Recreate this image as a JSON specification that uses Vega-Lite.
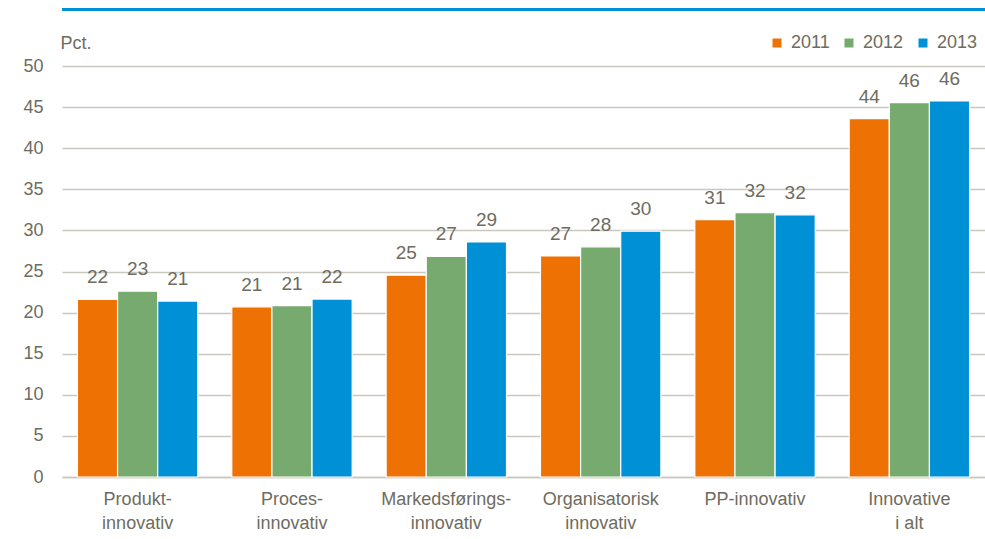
{
  "$schema": "https://vega.github.io/schema/vega-lite/v6.json",
  "width": 923,
  "height": 411,
  "autosize": {"type": "none"},
  "padding": {"left": 62, "top": 66, "right": 0, "bottom": 62},
  "background": "white",
  "config": {
    "font": "Liberation Sans, Arial",
    "view": {"stroke": null},
    "axis": {"labelColor": "#6E6C5E", "titleColor": "#6E6C5E", "labelFontSize": 18, "titleFontSize": 18, "labelFont": "Liberation Sans", "titleFont": "Liberation Sans", "titleFontWeight": "normal"},
    "legend": {"labelColor": "#6E6C5E", "labelFontSize": 18, "labelFont": "Liberation Sans"}
  },
  "data": {
    "values": [
      {"kategori": "Produkt-\ninnovativ", "aar": "2011", "pct": 21.6},
      {"kategori": "Produkt-\ninnovativ", "aar": "2012", "pct": 22.6},
      {"kategori": "Produkt-\ninnovativ", "aar": "2013", "pct": 21.4},
      {"kategori": "Proces-\ninnovativ", "aar": "2011", "pct": 20.7},
      {"kategori": "Proces-\ninnovativ", "aar": "2012", "pct": 20.85},
      {"kategori": "Proces-\ninnovativ", "aar": "2013", "pct": 21.65},
      {"kategori": "Markedsførings-\ninnovativ", "aar": "2011", "pct": 24.55},
      {"kategori": "Markedsførings-\ninnovativ", "aar": "2012", "pct": 26.85},
      {"kategori": "Markedsførings-\ninnovativ", "aar": "2013", "pct": 28.6},
      {"kategori": "Organisatorisk\ninnovativ", "aar": "2011", "pct": 26.9},
      {"kategori": "Organisatorisk\ninnovativ", "aar": "2012", "pct": 28.0},
      {"kategori": "Organisatorisk\ninnovativ", "aar": "2013", "pct": 29.9},
      {"kategori": "PP-innovativ", "aar": "2011", "pct": 31.3},
      {"kategori": "PP-innovativ", "aar": "2012", "pct": 32.15},
      {"kategori": "PP-innovativ", "aar": "2013", "pct": 31.9},
      {"kategori": "Innovative\ni alt", "aar": "2011", "pct": 43.6},
      {"kategori": "Innovative\ni alt", "aar": "2012", "pct": 45.55},
      {"kategori": "Innovative\ni alt", "aar": "2013", "pct": 45.75}
    ]
  },
  "encoding": {
    "x": {
      "field": "kategori", "type": "nominal", "sort": null,
      "scale": {"paddingInner": 0.22, "paddingOuter": 0.1},
      "axis": {"title": null, "labelAngle": 0, "ticks": false, "domain": true, "domainColor": "#C9C7BE", "domainWidth": 1.5, "labelPadding": 13, "labelBaseline": "top", "labelLineHeight": 24, "labelExpr": "split(datum.label, '\\n')", "grid": false}
    },
    "xOffset": {"field": "aar", "type": "nominal", "scale": {"paddingInner": 0}},
    "y": {
      "field": "pct", "type": "quantitative",
      "scale": {"domain": [0, 50], "nice": false},
      "axis": {"values": [0, 5, 10, 15, 20, 25, 30, 35, 40, 45, 50], "title": "Pct.", "titleAngle": 0, "titleAlign": "left", "titleBaseline": "alphabetic", "titleX": -2, "titleY": -18, "domain": false, "ticks": false, "labelPadding": 19, "grid": true, "gridColor": "#C9C7BE", "gridWidth": 1.5}
    }
  },
  "layer": [
    {
      "mark": {"type": "bar", "stroke": "white", "strokeWidth": 1.2},
      "encoding": {
        "color": {
          "field": "aar", "type": "nominal",
          "scale": {"domain": ["2011", "2012", "2013"], "range": ["#EE7203", "#77AA6E", "#0090D5"]},
          "legend": {"title": null, "orient": "none", "legendX": 706, "legendY": -32, "direction": "horizontal", "symbolType": "square", "symbolSize": 81, "symbolStrokeWidth": 0, "labelOffset": 5, "columnPadding": 10, "padding": 0}
        }
      }
    },
    {
      "mark": {"type": "text", "baseline": "alphabetic", "dy": -16, "fontSize": 19, "color": "#6E6C5E", "font": "Liberation Sans"},
      "encoding": {"text": {"field": "pct", "type": "quantitative", "format": ".0f"}}
    },
    {
      "mark": {"type": "rule", "color": "#0090D5", "strokeWidth": 2.5, "clip": false},
      "encoding": {"y": {"datum": 56.9}, "x": null, "xOffset": null}
    }
  ]
}
